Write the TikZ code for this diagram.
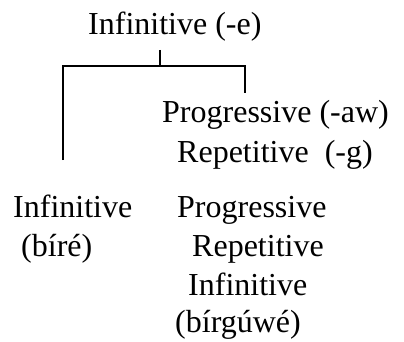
\documentclass[tikz,border=0pt]{standalone}
\usepackage{fontspec}
\setmainfont{Liberation Serif}[FakeBold=1.2]
\newfontfamily\timesfont{Liberation Serif}
\begin{document}
\begin{tikzpicture}[x=1pt,y=-1pt,
  lbl/.style={anchor=base west,inner sep=0pt,font=\timesfont\fontsize{32}{38}\selectfont},
  conn/.style={line width=1.6pt,black}]
\useasboundingbox (0,0) rectangle (404,342);
% texts
\node[lbl] (top) at (88,35) {Infinitive (-e)};
\node[lbl] (prog) at (162,123) {Progressive (-aw)};
\node[lbl] (rep) at (177,162) {Repetitive\ \ (-g)};
\node[lbl] (linf) at (13,217) {Infinitive};
\node[lbl] (lbire) at (21,256) {(bíré)};
\node[lbl] (rprog) at (177,217) {Progressive};
\node[lbl] (rrep) at (192,256) {Repetitive};
\node[lbl] (rinf) at (188,295) {Infinitive};
\node[lbl] (rbir) at (175,332) {(bírgúwé)};
% connector points
\coordinate (tick) at (160,50);
\coordinate (j) at (160,66);
\coordinate (lc) at (63,66);
\coordinate (rc) at (245,66);
\coordinate (lend) at (63,160);
\coordinate (rend) at (245,93);
\draw[conn] (tick) -- (j);
\draw[conn] (lend) -- (lc) -- (rc) -- (rend);
\end{tikzpicture}
\end{document}
